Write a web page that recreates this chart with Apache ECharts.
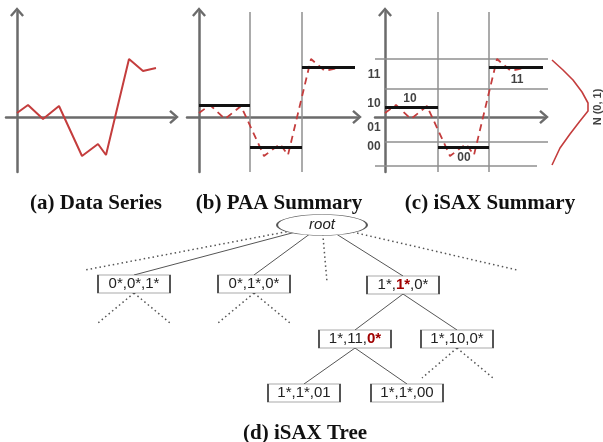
<!DOCTYPE html>
<html>
<head>
<meta charset="utf-8">
<script src="https://cdn.jsdelivr.net/npm/echarts@6/dist/echarts.min.js"></script>
<style>html,body{margin:0;padding:0;background:#fff}#c{width:603px;height:442px}</style>
</head>
<body>
<div id="c"></div>
<script>
// ---------- data ----------
// raw data series (time, value)
const seriesX = [0, 1.1, 2.6, 4.2, 6.5, 8.1, 8.9, 11.2, 12.6, 13.9];
const seriesY = [0.4, 1.2, -0.2, 1.1, -3.9, -2.7, -3.8, 5.8, 4.6, 4.9];
// PAA summary (panel b)
const paaStart = [0, 5.1, 10.3];
const paaEnd = [5.1, 10.3, 15.6];
const paaValue = [1.2, -3.0, 5.0];
// iSAX summary (panel c)
const isaxStart = [0, 5.3, 10.4];
const isaxEnd = [5.3, 10.4, 15.8];
const isaxValue = [1.0, -3.0, 5.0];
const isaxWord = ['10', '00', '11'];
const isaxWordX = [2.5, 7.9, 13.2];
const isaxWordY = [1.8, -4.1, 3.7];
const breakpoints = [5.8, 2.8, -2.5, -4.9];
const breakStart = [-1.0, 0, 0, -1.0];
const breakEnd = [16.3, 16.3, 16.3, 15.2];
const symbolLabels = ['11', '10', '01', '00'];
const symbolLabelY = [4.2, 1.3, -1.1, -3.0];
// N(0,1) curve drawn at the side of panel c
const normalX = [16.7, 17.8, 18.8, 19.7, 20.3, 20.3, 19.5, 18.5, 17.5, 16.7];
const normalY = [5.7, 4.7, 3.7, 2.5, 1.4, 0.6, -0.4, -1.7, -3.1, -4.8];
// captions
const captions = ['(a) Data Series', '(b) PAA Summary', '(c) iSAX Summary', '(d) iSAX Tree'];
// iSAX tree
const nodeLabels = ['root', '0*,0*,1*', '0*,1*,0*', '1*,1*,0*', '1*,11,0*', '1*,10,0*', '1*,1*,01', '1*,1*,00'];
const nodeRed = [-1, -1, -1, 1, 2, -1, -1, -1];     // index of the component split at this node
const nodeX = [32.2, 13.4, 25.4, 40.3, 35.5, 45.7, 30.4, 40.7];
const nodeY = [22.5, 28.4, 28.4, 28.5, 33.9, 33.9, 39.3, 39.3];
const edgeFrom = [0, 0, 0, 3, 3, 4, 4];
const edgeTo = [1, 2, 3, 4, 5, 6, 7];
const stubFrom = [0, 0, 0, 1, 1, 2, 2, 5, 5];
const stubX = [8.5, 32.7, 51.7, 9.8, 17.0, 21.8, 29.0, 42.2, 49.3];
const stubY = [27.0, 28.2, 27.0, 32.3, 32.3, 32.3, 32.3, 37.8, 37.8];

// ---------- styles ----------
const AXIS = '#6b6b6b', RED = '#c43d3d', GRIDC = '#8f8f8f';
const ARROW = 'path://M7,0 L14,8 L12.2,9.6 L7,3.6 L1.8,9.6 L0,8 Z';
const SANS = 'Liberation Sans, Arial, sans-serif';
const BOX_HALF = 0.9;

const pts = seriesX.map((x, i) => [x, seriesY[i]]);

function panelAxes(i, xmin, xmax) {
  return {
    x: {gridIndex: i, type: 'value', min: xmin, max: xmax,
      axisLine: {show: true, onZero: true, lineStyle: {color: AXIS, width: 2.5}, symbol: ['none', ARROW], symbolSize: [14, 10]},
      axisTick: {show: false}, axisLabel: {show: false}, splitLine: {show: false}},
    y: {gridIndex: i, type: 'value', min: -5.5, max: 10.5,
      axisLine: {show: true, onZero: true, lineStyle: {color: AXIS, width: 2.5}, symbol: ['none', ARROW], symbolSize: [14, 10]},
      axisTick: {show: false}, axisLabel: {show: false}, splitLine: {show: false}}
  };
}
const pa = panelAxes(0, -1.1, 15.7), pb = panelAxes(1, -1.2, 15.8), pc = panelAxes(2, -1.0, 15.9);

function segs(starts, ends, vals) {
  return starts.map((s, i) => ({coords: [[s, vals[i]], [ends[i], vals[i]]]}));
}
function vlines(xs) {
  return xs.map(x => ({coords: [[x, -5.5], [x, 10.5]]}));
}
function richLabel(i) {
  const parts = nodeLabels[i].split(',');
  if (nodeRed[i] >= 0) parts[nodeRed[i]] = '{r|' + parts[nodeRed[i]] + '}';
  return parts.join(',');
}

const series = [
  // panel a
  {type: 'line', xAxisIndex: 0, yAxisIndex: 0, data: pts, symbol: 'none', lineStyle: {color: RED, width: 2}, z: 3},
  // panel b
  {type: 'lines', coordinateSystem: 'cartesian2d', xAxisIndex: 1, yAxisIndex: 1, clip: false,
    data: vlines([paaEnd[0], paaEnd[1]]), lineStyle: {color: GRIDC, width: 1.5, opacity: 1}, z: 1},
  {type: 'line', xAxisIndex: 1, yAxisIndex: 1, data: pts, symbol: 'none', lineStyle: {color: RED, width: 1.8, type: [7, 5]}, z: 3},
  {type: 'lines', coordinateSystem: 'cartesian2d', xAxisIndex: 1, yAxisIndex: 1, clip: false,
    data: segs(paaStart, paaEnd, paaValue), lineStyle: {color: '#111', width: 3, opacity: 1}, z: 4},
  // panel c
  {type: 'lines', coordinateSystem: 'cartesian2d', xAxisIndex: 2, yAxisIndex: 2, clip: false,
    data: vlines([isaxEnd[0], isaxEnd[1]]).concat(breakpoints.map((b, i) => ({coords: [[breakStart[i], b], [breakEnd[i], b]]}))),
    lineStyle: {color: GRIDC, width: 1.5, opacity: 1}, z: 1},
  {type: 'line', xAxisIndex: 2, yAxisIndex: 2, data: pts, symbol: 'none', lineStyle: {color: RED, width: 1.8, type: [7, 5]}, z: 3},
  {type: 'lines', coordinateSystem: 'cartesian2d', xAxisIndex: 2, yAxisIndex: 2, clip: false,
    data: segs(isaxStart, isaxEnd, isaxValue), lineStyle: {color: '#111', width: 3, opacity: 1}, z: 4},
  {type: 'scatter', xAxisIndex: 2, yAxisIndex: 2, clip: false, symbolSize: 0, z: 5,
    data: isaxWord.map((w, i) => ({value: [isaxWordX[i], isaxWordY[i]], name: w}))
      .concat(symbolLabels.map((w, i) => ({value: [-1.1, symbolLabelY[i]], name: w}))),
    label: {show: true, position: 'inside', formatter: p => p.name, color: '#111', fontFamily: SANS, fontWeight: 'bold', fontSize: 12}},
  // N(0,1) side curve (own grid, same scale as panel c)
  {type: 'line', xAxisIndex: 4, yAxisIndex: 4, data: normalX.map((x, i) => [x, normalY[i]]),
    symbol: 'none', lineStyle: {color: RED, width: 1.6}, z: 3},
  {type: 'scatter', xAxisIndex: 4, yAxisIndex: 4, symbolSize: 0, z: 5,
    data: [{value: [21.3, 1.0], name: 'N (0, 1)'}],
    label: {show: true, position: 'inside', rotate: 90, formatter: p => p.name, color: '#111', fontFamily: SANS, fontWeight: 'bold', fontSize: 11}},
  // tree edges
  {type: 'lines', coordinateSystem: 'cartesian2d', xAxisIndex: 3, yAxisIndex: 3, clip: false, z: 1,
    lineStyle: {color: '#555', width: 1, opacity: 1},
    data: edgeFrom.map((f, i) => {
      const t = edgeTo[i];
      const fy = f === 0 ? nodeY[f] : nodeY[f] + BOX_HALF;
      return {coords: [[nodeX[f], fy], [nodeX[t], nodeY[t] - BOX_HALF]]};
    })},
  {type: 'lines', coordinateSystem: 'cartesian2d', xAxisIndex: 3, yAxisIndex: 3, clip: false, z: 1,
    lineStyle: {color: '#555', width: 1.5, opacity: 1, type: [1.5, 3]},
    data: stubFrom.map((f, i) => {
      const fy = f === 0 ? nodeY[f] : nodeY[f] + BOX_HALF;
      return {coords: [[nodeX[f], fy], [stubX[i], stubY[i]]]};
    })},
  // tree nodes
  {type: 'scatter', xAxisIndex: 3, yAxisIndex: 3, clip: false, z: 3,
    data: nodeLabels.map((n, i) => ({
      value: [nodeX[i], nodeY[i]], name: n,
      symbol: i === 0 ? 'path://M0,10A20,10,0,1,1,40,10A20,10,0,1,1,0,10Z' : 'rect',
      symbolSize: i === 0 ? [90, 21] : [72, 18],
      label: {formatter: i === 0 ? '{i|root}' : richLabel(i)}
    })),
    symbolKeepAspect: false,
    itemStyle: {color: '#fff', borderColor: '#555', borderWidth: 1, opacity: 1},
    label: {show: true, position: 'inside', color: '#222', fontFamily: SANS, fontSize: 15,
      rich: {r: {color: '#a00000', fontWeight: 'bold', fontFamily: SANS, fontSize: 15},
             i: {fontStyle: 'italic', color: '#222', fontFamily: SANS, fontSize: 15}}},
    emphasis: {disabled: true}}
];

const titleCenters = [[91, 188], [274, 188], [485, 188], [300, 418]];
const option = {
  animation: false,
  title: captions.map((c, i) => ({text: c, left: titleCenters[i][0], top: titleCenters[i][1], textAlign: 'center',
    textStyle: {fontFamily: 'Liberation Serif, serif', fontWeight: 'bold', fontSize: 21, color: '#111'}})),
  grid: [
    {left: 6, width: 168, top: 12, height: 160},
    {left: 187, width: 170, top: 12, height: 160},
    {left: 375, width: 169, top: 12, height: 160},
    {left: 0, right: 0, top: 0, bottom: 0},
    {left: 545, width: 58, top: 12, height: 160}
  ],
  xAxis: [pa.x, pb.x, pc.x, {gridIndex: 3, type: 'value', min: 0, max: 60.3, show: false},
    {gridIndex: 4, type: 'value', min: 16.0, max: 21.8, show: false}],
  yAxis: [pa.y, pb.y, pc.y, {gridIndex: 3, type: 'value', min: 0, max: 44.2, inverse: true, show: false},
    {gridIndex: 4, type: 'value', min: -5.5, max: 10.5, show: false}],
  series: series
};
const chart = echarts.init(document.getElementById('c'), null, {renderer: 'canvas'});
chart.setOption(option);
</script>
</body>
</html>
